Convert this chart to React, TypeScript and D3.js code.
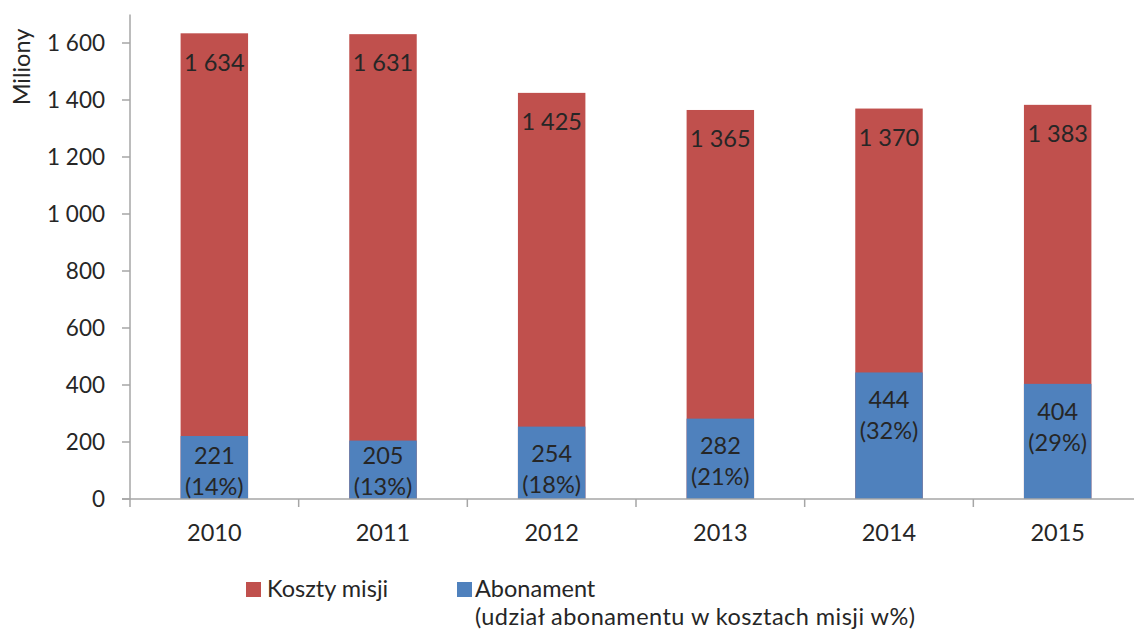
import React from "react";
import * as d3 from "d3";

const years = ["2010", "2011", "2012", "2013", "2014", "2015"];
const missionCosts = [1634, 1631, 1425, 1365, 1370, 1383];
const licenceFees = [221, 205, 254, 282, 444, 404];
const licenceShares = [14, 13, 18, 21, 32, 29];
const yTicks = [0, 200, 400, 600, 800, 1000, 1200, 1400, 1600];

const W = 1134;
const H = 632;
const RED = "#C0504D";
const BLUE = "#4F81BD";
const AXIS = "#A6A6A6";
const TEXT = "#262626";
const FONT = "Lato, 'Open Sans', sans-serif";
const FS = 23.5;

const fmt = (v: number) => {
  const s = String(v);
  return s.length > 3 ? s.slice(0, s.length - 3) + " " + s.slice(-3) : s;
};

export default function App() {
  const left = 130;
  const right = 1142;
  const y0 = 499;
  const y = d3.scaleLinear().domain([0, 1600]).range([y0, 43]);
  const yTop = y(1700);
  const xOuter = d3.scaleBand<string>().domain(years).range([left, right]).padding(0);
  const x = d3.scaleBand<string>().domain(years).range([left, right]).paddingInner(0.6).paddingOuter(0.3);
  const boundaries = d3.range(years.length + 1).map((i) => left + i * xOuter.step());

  return (
    <svg
      width={W}
      height={H}
      style={{ position: "absolute", left: 0, top: 0, background: "#fff" }}
      fontFamily={FONT}
    >
      {/* bars */}
      {years.map((yr, i) => (
        <g key={yr}>
          <rect x={x(yr)} y={y(missionCosts[i])} width={x.bandwidth()} height={y0 - y(missionCosts[i])} fill={RED} />
          <rect x={x(yr)} y={y(licenceFees[i])} width={x.bandwidth()} height={y0 - y(licenceFees[i])} fill={BLUE} />
        </g>
      ))}

      {/* axes */}
      <line x1={left} x2={left} y1={yTop} y2={y0} stroke={AXIS} strokeWidth={1.5} />
      <line x1={left - 8} x2={right} y1={y0} y2={y0} stroke={AXIS} strokeWidth={1.5} />
      {yTicks.map((t) => (
        <g key={t}>
          <line x1={left - 8} x2={left} y1={y(t)} y2={y(t)} stroke={AXIS} strokeWidth={1.5} />
          <text x={105} y={y(t)} dy="0.35em" textAnchor="end" fontSize={22.5} fill={TEXT}>
            {fmt(t)}
          </text>
        </g>
      ))}
      {boundaries.map((b, i) => (
        <line key={i} x1={b} x2={b} y1={y0} y2={y0 + 8} stroke={AXIS} strokeWidth={1.5} />
      ))}
      {years.map((yr) => (
        <text key={yr} x={(xOuter(yr) as number) + xOuter.bandwidth() / 2} y={533} dy="0.35em" textAnchor="middle" fontSize={FS} fill={TEXT}>
          {yr}
        </text>
      ))}

      {/* y title */}
      <text transform={`translate(22,67) rotate(-90)`} textAnchor="middle" dy="0.35em" fontSize={FS} fill={TEXT}>
        Miliony
      </text>

      {/* data labels */}
      {years.map((yr, i) => {
        const cx = (x(yr) as number) + x.bandwidth() / 2;
        const redCy = y(missionCosts[i]) + 29;
        const blockCy = Math.min(y(licenceFees[i]) + 43, 471);
        return (
          <g key={yr} fontSize={FS} fill={TEXT} textAnchor="middle">
            <text x={cx} y={redCy} dy="0.35em">{fmt(missionCosts[i])}</text>
            <text x={cx} y={blockCy - 15.5} dy="0.35em">{fmt(licenceFees[i])}</text>
            <text x={cx} y={blockCy + 15.5} dy="0.35em">({licenceShares[i]}%)</text>
          </g>
        );
      })}

      {/* legend */}
      <rect x={246} y={582} width={15} height={15} fill={RED} />
      <text x={267} y={589} dy="0.35em" fontSize={FS} fill={TEXT}>Koszty misji</text>
      <rect x={457} y={582} width={15} height={15} fill={BLUE} />
      <text x={475} y={589} dy="0.35em" fontSize={FS} fill={TEXT}>Abonament</text>
      <text x={475} y={617} dy="0.35em" fontSize={FS} fill={TEXT} textLength={440} lengthAdjust="spacing">(udział abonamentu w kosztach misji w%)</text>
    </svg>
  );
}
